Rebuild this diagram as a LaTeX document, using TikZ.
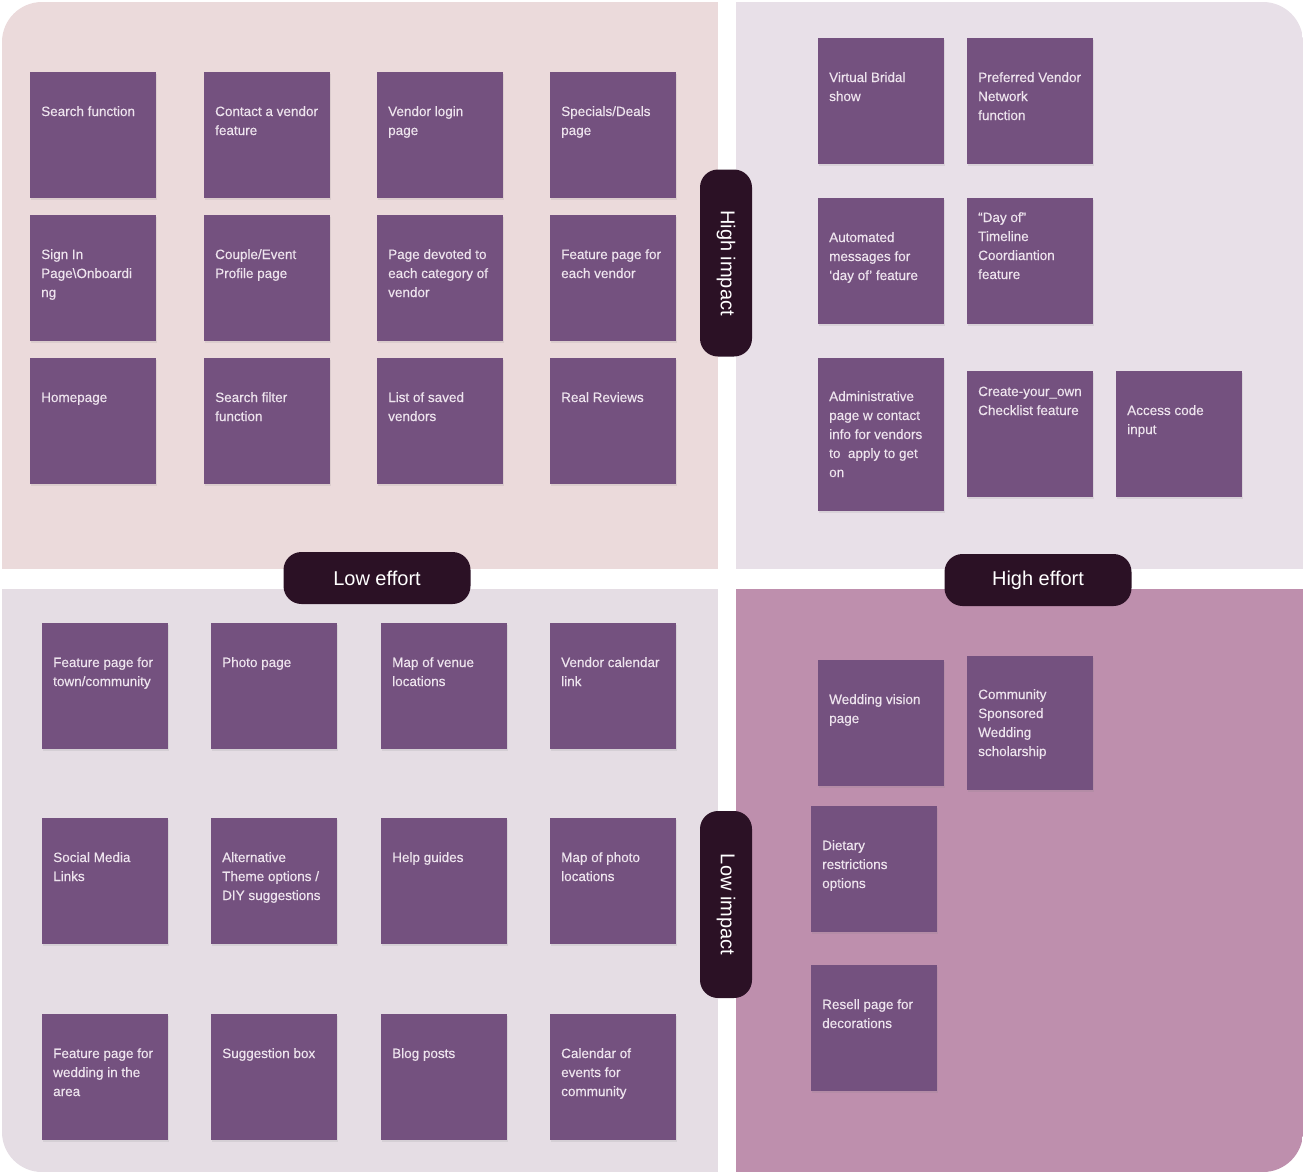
\documentclass[tikz,border=0pt]{standalone}
\usepackage{fontspec}
\setmainfont{Liberation Sans}
\newfontface\notefont{Liberation Sans}[FakeBold=0.35]
\usepackage{tikz}
\usetikzlibrary{positioning,shadows}

\definecolor{tlbg}{HTML}{EBDADB}
\definecolor{trbg}{HTML}{E8E0E8}
\definecolor{blbg}{HTML}{E5DDE4}
\definecolor{brbg}{HTML}{BE8FAD}
\definecolor{notefill}{HTML}{74517F}
\definecolor{notetext}{HTML}{EEE4EE}
\definecolor{pillfill}{HTML}{2B1125}

\tikzset{
  sticky/.style={fill=notefill, anchor=north west, minimum width=126pt,
    inner sep=0pt, drop shadow={shadow xshift=0.5pt, shadow yshift=-1.5pt, opacity=0.15}},
  stickytext/.style={anchor=base west, inner sep=0pt, text=notetext,
    font=\notefont\fontsize{13.5}{19}\selectfont},
  pill/.style={fill=pillfill, rounded corners=18pt, text=white, minimum width=187pt,
    minimum height=52pt, inner sep=0pt, font=\fontsize{20}{24}\selectfont}
}

% [text offset]{name}{x}{y}{height}{text}
\newcommand{\stickynote}[6][44]{%
  \node[sticky, minimum height=#5pt] (#2) at (#3,#4) {};
  \node[stickytext] (#2-txt) at ([xshift=11pt,yshift=-#1pt]#2.north west)
    {\parbox[t]{120pt}{\raggedright #6}};}

\begin{document}
\begin{tikzpicture}[x=1pt,y=-1pt]
\useasboundingbox (0,0) rectangle (1305,1173);

% quadrants
\begin{scope}
\clip[rounded corners=40pt] (2,2) rectangle (1303,1172);
\fill[tlbg] (2,2) rectangle (718,569);
\fill[trbg] (736,2) rectangle (1303,569);
\fill[blbg] (2,589) rectangle (718,1172);
\fill[brbg] (736,589) rectangle (1303,1172);
\end{scope}

% low effort / high impact
\stickynote{searchfn}{30}{72}{126}{Search function}
\stickynote{contact}{204}{72}{126}{Contact a vendor\\feature}
\stickynote{vlogin}{377}{72}{126}{Vendor login\\page}
\stickynote{specials}{550}{72}{126}{Specials/Deals\\page}
\stickynote{signin}{30}{215}{126}{Sign In\\Page\textbackslash Onboardi\\ng}
\stickynote{profile}{204}{215}{126}{Couple/Event\\Profile page}
\stickynote{category}{377}{215}{126}{Page devoted to\\each category of\\vendor}
\stickynote{vfeature}{550}{215}{126}{Feature page for\\each vendor}
\stickynote{homepage}{30}{358}{126}{Homepage}
\stickynote{filter}{204}{358}{126}{Search filter\\function}
\stickynote{saved}{377}{358}{126}{List of saved\\vendors}
\stickynote{reviews}{550}{358}{126}{Real Reviews}

% high effort / high impact
\stickynote{bridal}{818}{38}{126}{Virtual Bridal\\show}
\stickynote{network}{967}{38}{126}{Preferred Vendor\\Network\\function}
\stickynote{automsg}{818}{198}{126}{Automated\\messages for\\‘day of’ feature}
\stickynote[24]{timeline}{967}{198}{126}{“Day of”\\Timeline\\Coordiantion\\feature}
\stickynote[43]{admin}{818}{358}{153}{Administrative\\page w contact\\info for vendors\\to\ \ apply to get\\on}
\stickynote[25]{checklist}{967}{371}{126}{Create-your\_own\\Checklist feature}
\stickynote[44]{access}{1116}{371}{126}{Access code\\input}

% low effort / low impact
\stickynote{town}{42}{623}{126}{Feature page for\\town/community}
\stickynote{photo}{211}{623}{126}{Photo page}
\stickynote{venue}{381}{623}{126}{Map of venue\\locations}
\stickynote{calendar}{550}{623}{126}{Vendor calendar\\link}
\stickynote{social}{42}{818}{126}{Social Media\\Links}
\stickynote{theme}{211}{818}{126}{Alternative\\Theme options /\\DIY suggestions}
\stickynote{guides}{381}{818}{126}{Help guides}
\stickynote{photomap}{550}{818}{126}{Map of photo\\locations}
\stickynote{area}{42}{1014}{126}{Feature page for\\wedding in the\\area}
\stickynote{suggest}{211}{1014}{126}{Suggestion box}
\stickynote{blog}{381}{1014}{126}{Blog posts}
\stickynote{events}{550}{1014}{126}{Calendar of\\events for\\community}

% high effort / low impact
\stickynote{vision}{818}{660}{126}{Wedding vision\\page}
\stickynote[43]{scholar}{967}{656}{134}{Community\\Sponsored\\Wedding\\scholarship}
\stickynote{dietary}{811}{806}{126}{Dietary\\restrictions\\options}
\stickynote{resell}{811}{965}{126}{Resell page for\\decorations}

% axis labels
\node[pill, rotate=-90] (hiimpact) at (726,263) {High impact};
\node[pill, rotate=-90] (loimpact) at (726,904.5) {Low impact};
\node[pill] (loeffort) at (377,578) {Low effort};
\node[pill] (hieffort) at (1038,580) {High effort};
\end{tikzpicture}
\end{document}
